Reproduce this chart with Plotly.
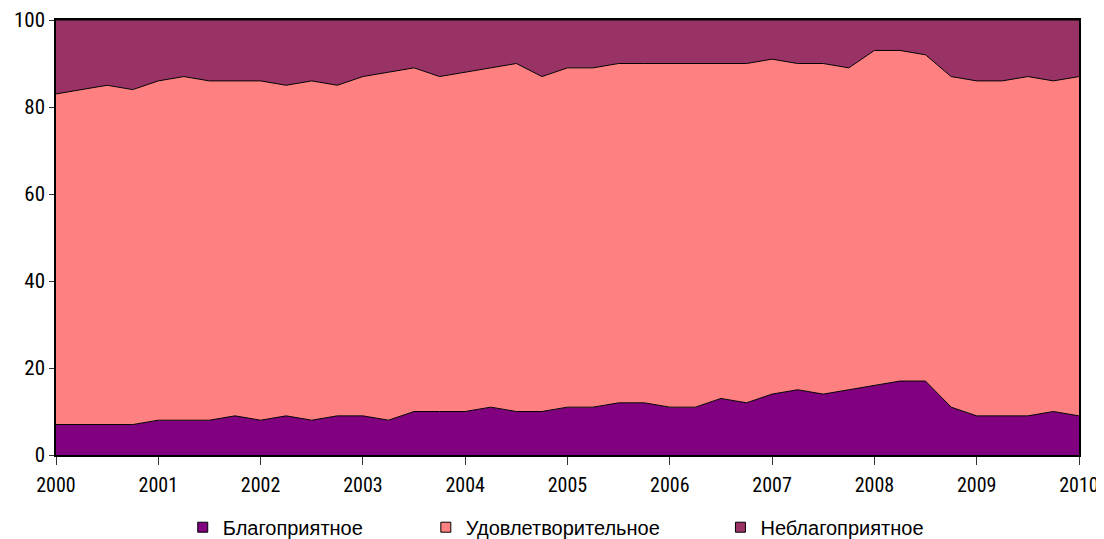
import plotly.graph_objects as go

quarters = [2000 + 0.25 * i for i in range(41)]
years = list(range(2000, 2011))

favorable = [7, 7, 7, 7, 8, 8, 8, 9, 8, 9, 8, 9, 9, 8, 10, 10, 10, 11, 10, 10, 11,
             11, 12, 12, 11, 11, 13, 12, 14, 15, 14, 15, 16, 17, 17, 11, 9, 9, 9, 10, 9]
cum_top = [83, 84, 85, 84, 86, 87, 86, 86, 86, 85, 86, 85, 87, 88, 89, 87, 88, 89, 90, 87, 89,
           89, 90, 90, 90, 90, 90, 90, 91, 90, 90, 89, 93, 93, 92, 87, 86, 86, 87, 86, 87]
satisfactory = [c - f for c, f in zip(cum_top, favorable)]
unfavorable = [100 - c for c in cum_top]

names = ["Благоприятное", "Удовлетворительное", "Неблагоприятное"]
colors = ["#800080", "#FF8080", "#993366"]
series = [favorable, satisfactory, unfavorable]
legend_ids = ["legend", "legend2", "legend3"]
legend_x = [0.1239, 0.3615, 0.6495]

tick_font = "Roboto Condensed, Roboto, Liberation Sans, sans-serif"
legend_font = "Liberation Sans, Arial, sans-serif"

fig = go.Figure()
for name, col, vals in zip(names, colors, series):
    fig.add_trace(go.Scatter(
        x=quarters, y=vals, name=name, mode="lines", stackgroup="one",
        line=dict(color="black", width=1), fillcolor=col, showlegend=False,
    ))
# legend entries (square markers like the reference legend)
for name, col, lid in zip(names, colors, legend_ids):
    fig.add_trace(go.Scatter(
        x=[None], y=[None], name=name, mode="markers", legend=lid,
        marker=dict(symbol="square", size=10, color=col, line=dict(color="black", width=1)),
        showlegend=True,
    ))

layout_legends = {}
for lid, lx in zip(legend_ids, legend_x):
    layout_legends[lid] = dict(x=lx, xanchor="left", y=-0.166, yanchor="middle",
                               bgcolor="rgba(0,0,0,0)", borderwidth=0,
                               font=dict(family=legend_font, size=20, color="black"))

fig.update_layout(
    width=1104, height=531,
    margin=dict(l=48, r=33, t=12, b=84, autoexpand=False),
    paper_bgcolor="white", plot_bgcolor="white",
    font=dict(family=tick_font, size=20, color="black"),
    showlegend=True,
    **layout_legends,
)
fig.update_xaxes(
    range=[2000, 2010], tickvals=years, ticktext=[str(y) for y in years],
    showgrid=False, zeroline=False, showline=True, linecolor="black", linewidth=2,
    ticks="outside", ticklen=8, tickwidth=1, tickcolor="#333333", mirror=True,
    ticklabelstandoff=3,
    tickfont=dict(family=tick_font, size=20, color="black"), automargin=False,
)
fig.update_yaxes(
    range=[0, 100], tickvals=[0, 20, 40, 60, 80, 100], showgrid=False, zeroline=False,
    showline=True, linecolor="black", linewidth=1.5,
    ticks="outside", ticklen=5, tickwidth=1, tickcolor="#333333", mirror=True,
    tickfont=dict(family=tick_font, size=21, color="black"), automargin=False,
)
fig.write_html("out.html")
